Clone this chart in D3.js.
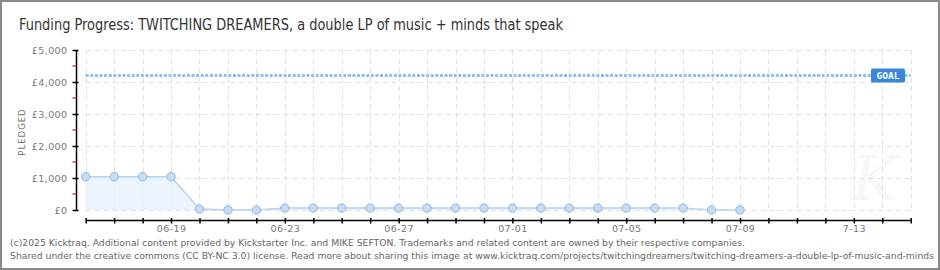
<!DOCTYPE html>
<html>
<head>
<meta charset="utf-8">
<script src="https://cdn.jsdelivr.net/npm/d3@7"></script>
<style>
  body { margin: 0; background: #fff; }
  svg { display: block; }
</style>
</head>
<body>
<div id="chart"></div>
<script>
// chart data
var dates = ["2025-06-16", "2025-06-17", "2025-06-18", "2025-06-19", "2025-06-20", "2025-06-21",
    "2025-06-22", "2025-06-23", "2025-06-24", "2025-06-25", "2025-06-26", "2025-06-27",
    "2025-06-28", "2025-06-29", "2025-06-30", "2025-07-01", "2025-07-02", "2025-07-03",
    "2025-07-04", "2025-07-05", "2025-07-06", "2025-07-07", "2025-07-08", "2025-07-09"];
var pledged = [1040, 1040, 1040, 1040, 30, 0, 0, 60, 60, 60, 60, 60,
    60, 60, 60, 60, 60, 60, 60, 60, 60, 60, 0, 0];
var goal = 4200;
var dateRange = ["2025-06-16", "2025-07-15"];
var xTickLabels = ["06-19", "06-23", "06-27", "07-01", "07-05", "07-09", "7-13"];
var yTicks = [0, 1000, 2000, 3000, 4000, 5000];

var title = "Funding Progress: TWITCHING DREAMERS, a double LP of music + minds that speak";
var footer1 = "(c)2025 Kicktraq. Additional content provided by Kickstarter Inc. and MIKE SEFTON. Trademarks and related content are owned by their respective companies.";
var footer2 = "Shared under the creative commons (CC BY-NC 3.0) license. Read more about sharing this image at www.kicktraq.com/projects/twitchingdreamers/twitching-dreamers-a-double-lp-of-music-and-minds";

var width = 940, height = 270;
var parse = d3.timeParse("%Y-%m-%d");
var data = dates.map(function (d, i) { return { date: parse(d), value: pledged[i] }; });

var svg = d3.select("#chart").append("svg")
    .attr("width", width)
    .attr("height", height);

svg.append("rect")
    .attr("width", width).attr("height", height)
    .attr("fill", "#fff");

svg.append("text")
    .attr("x", 19).attr("y", 30)
    .attr("font-family", "'DejaVu Sans Condensed', sans-serif")
    .attr("font-size", 15)
    .attr("textLength", 544)
    .attr("lengthAdjust", "spacingAndGlyphs")
    .attr("fill", "#333")
    .text(title);

var x = d3.scaleTime()
    .domain(dateRange.map(parse))
    .range([85.7, 910.7]);
var y = d3.scaleLinear()
    .domain([0, 5000])
    .range([210, 50]);

var days = d3.timeDay.range(x.domain()[0], d3.timeDay.offset(x.domain()[1], 1));

// watermark
svg.append("text")
    .attr("x", 875).attr("y", 200)
    .attr("text-anchor", "middle")
    .attr("font-family", "'DejaVu Serif', serif")
    .attr("font-style", "italic")
    .attr("font-size", 62)
    .attr("fill", "#f7f7f7")
    .text("K");

// grid
var grid = svg.append("g")
    .attr("stroke", "#e0e0e0")
    .attr("stroke-dasharray", "5,4");
grid.selectAll(".vgrid")
    .data(days)
    .enter().append("line")
    .attr("x1", function (d) { return Math.round(x(d)) + 0.5; })
    .attr("x2", function (d) { return Math.round(x(d)) + 0.5; })
    .attr("y1", y(5000)).attr("y2", y(0));
grid.selectAll(".hgrid")
    .data(yTicks)
    .enter().append("line")
    .attr("x1", x.range()[0]).attr("x2", x.range()[1])
    .attr("y1", function (d) { return Math.round(y(d)) + 0.5; })
    .attr("y2", function (d) { return Math.round(y(d)) + 0.5; });

// area and line
svg.append("path")
    .datum(data)
    .attr("fill", "#e6f0fc")
    .attr("fill-opacity", 0.8)
    .attr("d", d3.area()
        .x(function (d) { return x(d.date); })
        .y0(y(0))
        .y1(function (d) { return y(d.value); }));
svg.append("path")
    .datum(data)
    .attr("fill", "none")
    .attr("stroke", "#b3d4f5")
    .attr("stroke-width", 1.5)
    .attr("d", d3.line()
        .x(function (d) { return x(d.date); })
        .y(function (d) { return y(d.value); }));

// goal line
svg.append("line")
    .attr("x1", x.range()[0]).attr("x2", x.range()[1])
    .attr("y1", y(goal)).attr("y2", y(goal))
    .attr("stroke", "#8fc0ea")
    .attr("stroke-width", 3)
    .attr("stroke-dasharray", "3,1.6");
var goalTag = svg.append("g")
    .attr("transform", "translate(871," + (y(goal) - 7) + ")");
goalTag.append("rect")
    .attr("width", 34).attr("height", 14)
    .attr("rx", 1.5)
    .attr("fill", "#3a87d8");
goalTag.append("text")
    .attr("x", 17).attr("y", 10.5)
    .attr("text-anchor", "middle")
    .attr("font-family", "'DejaVu Sans Mono', monospace")
    .attr("font-size", 9.5)
    .attr("font-weight", "bold")
    .attr("fill", "#fff")
    .text("GOAL");

// points
svg.selectAll(".pt")
    .data(data)
    .enter().append("circle")
    .attr("cx", function (d) { return x(d.date); })
    .attr("cy", function (d) { return y(d.value); })
    .attr("r", 4.2)
    .attr("fill", "#c3dcf7")
    .attr("stroke", "#97b6d6")
    .attr("stroke-width", 1);

// y axis
var yAxis = svg.append("g")
    .attr("transform", "translate(76.5,0)")
    .call(d3.axisLeft(y).tickValues(yTicks).tickSize(4)
        .tickFormat(function (d) { return "£" + d3.format(",")(d); }));
yAxis.select(".domain").attr("d", "M0," + y(5000) + "V" + y(0)).attr("stroke", "#000").attr("stroke-width", 1.5);
yAxis.selectAll(".tick line").attr("x1", 2).attr("x2", -4).attr("stroke", "#000").attr("stroke-width", 1.5);
yAxis.selectAll(".tick text")
    .attr("x", -9)
    .attr("font-family", "'DejaVu Sans', sans-serif")
    .attr("font-size", 9.5)
    .attr("letter-spacing", 0.4)
    .attr("fill", "#777");
yAxis.selectAll(".minor")
    .data(d3.range(500, 5000, 1000))
    .enter().append("line")
    .attr("x1", -4).attr("x2", -1)
    .attr("y1", function (d) { return y(d); })
    .attr("y2", function (d) { return y(d); })
    .attr("stroke", "#e00")
    .attr("stroke-width", 1.2);

svg.append("text")
    .attr("transform", "translate(25,132) rotate(-90)")
    .attr("text-anchor", "middle")
    .attr("font-family", "'DejaVu Sans', sans-serif")
    .attr("font-size", 8.5)
    .attr("letter-spacing", 1)
    .attr("fill", "#777")
    .text("PLEDGED");

// x axis
var xAxis = svg.append("g")
    .attr("transform", "translate(0,220.5)")
    .call(d3.axisBottom(x).tickValues(days).tickSize(0).tickFormat(""));
xAxis.select(".domain").attr("d", "M" + x.range()[0] + ",0H" + x.range()[1]).attr("stroke", "#000").attr("stroke-width", 1.5);
xAxis.selectAll(".tick line").attr("y1", -2.5).attr("y2", 3).attr("stroke", "#000").attr("stroke-width", 1.5);
xAxis.selectAll(".tick").filter(function (d, i) { return (i + 1) % 4 === 0; })
    .append("text")
    .attr("y", 4.5)
    .attr("dy", "0.71em")
    .attr("fill", "#777")
    .attr("font-family", "'DejaVu Sans', sans-serif")
    .attr("font-size", 9.5)
    .attr("letter-spacing", 0.4)
    .text(function (d, i) { return xTickLabels[i]; });

// footer
svg.append("text")
    .attr("x", 10).attr("y", 246)
    .attr("font-family", "'DejaVu Sans', sans-serif")
    .attr("font-size", 9.2)
    .attr("textLength", 735)
    .attr("lengthAdjust", "spacingAndGlyphs")
    .attr("fill", "#666")
    .text(footer1);
svg.append("text")
    .attr("x", 10).attr("y", 259)
    .attr("font-family", "'DejaVu Sans', sans-serif")
    .attr("font-size", 9.2)
    .attr("textLength", 924)
    .attr("lengthAdjust", "spacingAndGlyphs")
    .attr("fill", "#666")
    .text(footer2);

// frame
svg.append("rect")
    .attr("x", 1).attr("y", 1)
    .attr("width", width - 2).attr("height", height - 2)
    .attr("fill", "none")
    .attr("stroke", "#8a8a8a")
    .attr("stroke-width", 2);
</script>
</body>
</html>
